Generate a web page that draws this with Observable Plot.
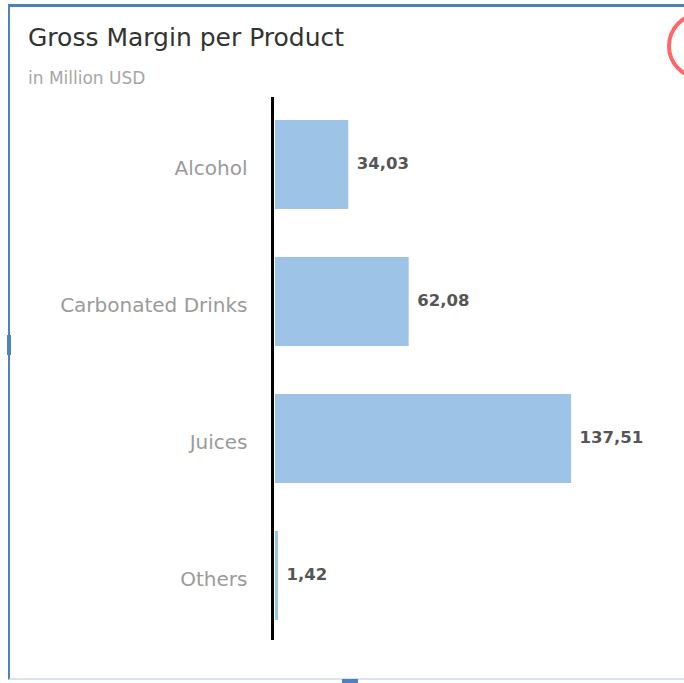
<!DOCTYPE html>
<html>
<head>
<meta charset="utf-8">
<script src="https://cdn.jsdelivr.net/npm/d3@7"></script>
<script src="https://cdn.jsdelivr.net/npm/@observablehq/plot@0.6"></script>
<style>
  html, body { margin: 0; padding: 0; background: #fff; width: 684px; height: 683px; overflow: hidden; }
  #card { position: absolute; left: 8px; top: 4px; width: 720px; height: 676px;
          border-left: 2px solid #4d82bc; border-top: 3px solid #4d82bc; border-bottom: 2px solid #d6e4f2; box-sizing: border-box; }
  #title { position: absolute; left: 28px; top: 24px; line-height: 1.15; font-family: "DejaVu Sans", sans-serif; font-size: 25px; color: #333; white-space: nowrap; }
  #subtitle { position: absolute; left: 28px; top: 69px; line-height: 1.15; font-family: "DejaVu Sans", sans-serif; font-size: 17px; color: #a6a6a6; white-space: nowrap; }
  #chart { position: absolute; left: 0; top: 90px; }
  #ring { position: absolute; left: 667px; top: 12px; width: 60px; height: 60px; border: 4px solid #ff6666; border-radius: 50%; }
  .handle { position: absolute; background: #4d82bc; }
</style>
</head>
<body>
<div id="card"></div>
<div class="handle" style="left:7px; top:335px; width:4px; height:20px;"></div>
<div class="handle" style="left:342px; top:679px; width:16px; height:4px;"></div>
<div id="ring"></div>
<div id="title">Gross Margin per Product</div>
<div id="subtitle">in Million USD</div>
<div id="chart"></div>
<script>
const categories = ["Alcohol", "Carbonated Drinks", "Juices", "Others"];
const values = [34.03, 62.08, 137.51, 1.42];

const data = categories.map((c, i) => ({category: c, value: values[i]}));
const fmt = v => v.toFixed(2).replace(".", ",");

const chart = Plot.plot({
  width: 684,
  height: 570,
  marginTop: 6,
  marginBottom: 16,
  marginLeft: 275,
  marginRight: 86,
  style: {fontFamily: "DejaVu Sans, sans-serif", background: "transparent"},
  x: {domain: [0, 150], axis: null},
  y: {domain: categories, paddingInner: 0.35, paddingOuter: 0.175, label: null},
  marks: [
    Plot.barX(data, {y: "category", x: "value", fill: "#9dc3e6"}),
    Plot.text(data, {y: "category", x: "value", text: d => fmt(d.value), textAnchor: "start", dx: 8, dy: -1,
      fontSize: 16.5, fontWeight: "bold", fill: "#555"}),
    Plot.axisY({tickSize: 0, tickPadding: 28, fontSize: 20, dy: 4, fill: "#9a9a9a", label: null}),
    Plot.ruleX([0], {stroke: "#000", strokeWidth: 3, dx: -3, insetTop: 1, insetBottom: 4})
  ]
});
document.getElementById("chart").appendChild(chart);
</script>
</body>
</html>
